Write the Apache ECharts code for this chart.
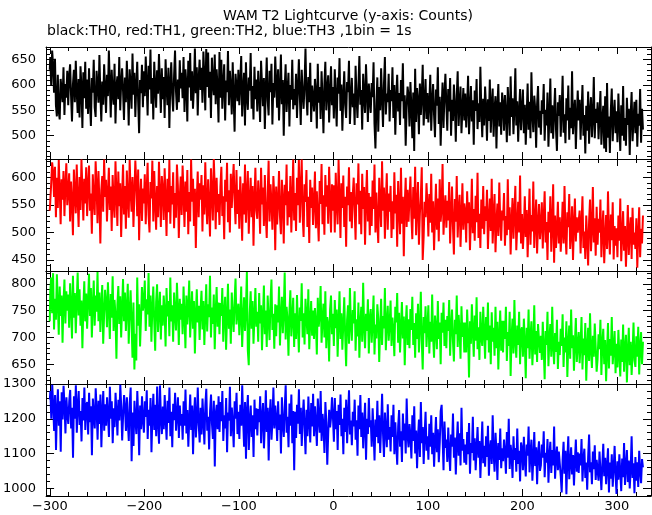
<!DOCTYPE html>
<html><head><meta charset="utf-8">
<script src="https://cdn.jsdelivr.net/npm/echarts@6/dist/echarts.min.js"></script>
<style>html,body{margin:0;padding:0;background:#fff}#c{width:652px;height:515px}</style>
</head><body><div id="c"></div><script>
const TITLE = 'WAM T2 Lightcurve (y-axis: Counts)';
const SUBTITLE = 'black:TH0, red:TH1, green:TH2, blue:TH3 ,1bin = 1s';
const T_START = -300;
const BIN_SEC = 1;

const th0 = [
630,655,598,668,640,585,652,560,538,620,548,532,612,590,566,635,541,602,575,628,
560,617,641,579,528,601,630,566,648,587,545,612,536,637,596,515,625,574,646,553,
611,543,633,570,519,614,585,650,556,537,628,599,565,659,583,528,607,561,641,594,
545,620,578,668,604,536,630,583,561,642,524,596,617,572,655,550,603,633,588,531,
615,566,648,593,520,631,600,553,662,581,624,537,598,646,567,505,610,584,640,556,
627,578,656,602,540,638,591,670,563,614,532,646,597,555,629,583,661,604,545,633,
572,616,535,651,596,560,634,515,603,645,579,548,619,668,588,551,611,566,649,593,
624,574,655,547,631,601,528,648,595,663,569,627,553,598,672,584,635,540,612,650,
590,634,565,666,615,550,671,596,664,575,626,535,654,603,580,660,562,631,594,526,
665,575,650,553,602,641,530,609,586,667,560,628,595,542,645,578,508,622,597,568,
630,560,604,657,538,590,624,520,645,577,551,615,589,663,553,598,532,636,572,611,
548,628,583,527,648,601,558,614,513,592,654,570,540,628,586,642,522,604,575,656,
605,555,631,530,590,660,562,610,500,594,641,547,587,624,518,600,571,650,552,592,
560,622,535,593,651,579,521,630,586,553,603,672,578,540,616,566,644,527,599,576,
548,612,585,514,642,565,596,533,627,575,505,601,646,550,589,619,526,583,637,560,
596,534,631,573,518,615,583,653,549,601,510,578,627,560,535,606,586,648,523,575,
614,556,583,521,638,576,535,597,657,561,590,512,622,578,545,641,587,527,603,570,
545,604,576,645,523,475,563,615,508,596,550,633,576,517,601,655,542,583,566,622,
528,590,568,635,535,600,502,574,620,548,584,521,610,568,643,534,580,480,556,597,
579,518,606,556,495,585,470,632,527,594,570,503,603,541,578,640,520,563,612,533,
584,526,563,620,510,568,602,541,497,591,559,635,523,577,480,553,605,515,579,622,
562,510,592,548,614,500,571,529,601,560,488,578,627,519,565,597,505,553,594,530,
583,516,560,618,503,553,598,528,570,482,589,549,612,513,564,527,636,551,497,573,
520,597,556,490,572,529,611,506,561,593,498,553,578,475,557,602,518,566,502,585,
563,510,580,543,487,596,551,500,617,537,574,503,555,633,520,568,488,548,592,511,
551,591,505,561,482,540,603,512,567,495,625,544,507,579,553,476,562,598,516,549,
502,570,543,602,490,551,520,585,478,538,613,505,560,494,547,594,512,470,566,539,
580,498,549,618,506,542,485,574,530,599,492,555,515,627,503,546,571,474,537,589,
530,571,492,548,600,500,541,465,559,510,587,484,546,576,497,536,616,495,553,525,
566,493,541,588,482,532,559,475,578,468,604,496,538,466,550,593,489,540,571,505,
548,487,583,525,470,560,500,598,490,535,480,575,521,553,462,541,586,489,531,567,
505,571,478,543,520,592,486,553,512
];

const th1 = [
540,556,590,628,610,565,620,528,600,545,632,578,515,597,560,612,530,585,626,550,
575,608,520,593,556,495,615,570,535,624,561,510,601,541,633,580,522,598,553,619,
530,586,622,540,571,498,606,559,532,630,585,517,612,556,480,577,603,538,633,565,
596,520,570,618,541,584,503,605,555,527,630,572,512,611,548,590,492,566,624,533,
585,507,613,560,527,632,575,538,601,510,569,631,590,530,615,486,562,598,521,580,
553,606,515,576,627,532,500,592,562,631,520,612,555,505,585,528,629,570,510,603,
578,523,617,560,494,598,537,632,516,585,551,610,508,572,527,624,586,490,563,602,
532,622,570,510,593,538,614,497,574,520,633,556,598,512,580,472,561,611,528,590,
560,605,502,586,533,628,559,515,597,550,493,617,572,522,634,583,506,600,537,570,
514,583,620,530,566,488,596,556,627,519,577,500,607,545,588,625,560,515,614,534,
578,507,602,557,485,590,533,624,518,568,612,498,558,600,528,585,476,561,618,540,
525,595,561,498,618,551,582,512,605,532,490,570,631,520,588,556,505,603,566,468,
584,515,555,612,530,497,596,560,480,587,550,624,513,575,528,603,500,557,633,522,
572,503,600,550,632,518,578,633,530,492,588,556,614,510,565,481,596,545,582,514,
555,611,508,575,528,484,594,552,625,515,568,496,605,547,586,516,620,560,500,588,
540,586,500,609,553,515,632,563,490,590,545,604,510,565,474,584,550,619,520,574,
508,567,600,542,487,590,551,626,515,576,497,607,543,583,478,560,614,520,572,495,
565,512,595,543,624,500,573,518,481,600,553,510,630,540,582,489,556,608,505,571,
538,585,490,557,506,610,535,569,474,594,546,497,618,516,565,457,550,600,510,578,
520,561,602,530,488,583,525,620,495,548,592,478,534,566,619,450,492,556,528,590,
551,493,570,518,607,500,557,468,529,589,505,562,484,597,520,545,625,496,540,568,
509,558,522,592,480,533,584,511,460,561,520,603,491,540,569,474,528,590,505,553,
538,482,575,517,555,468,526,598,499,543,485,567,519,609,490,534,472,560,507,585,
497,548,521,578,470,525,562,503,598,480,530,570,464,518,553,494,591,522,485,540,
522,572,476,530,495,597,505,546,460,520,563,489,537,585,468,512,556,500,604,480,
534,470,508,566,492,541,455,518,580,478,532,502,593,472,522,560,462,515,552,488,
512,555,471,526,575,482,519,450,538,500,566,465,514,588,445,531,472,507,556,480,
528,465,503,556,480,585,497,460,537,510,570,470,498,548,450,515,562,484,528,500,
497,540,462,515,566,472,502,452,531,490,440,520,560,466,508,583,482,526,458,547,
478,525,500,560,455,505,540,444,490,532,470,575,498,460,533,486,555,451,512,476,
508,455,531,485,562,448,495,539,467,512,438,492,550,459,503,528,452,545,478,500,
470,526,436,497,546,455,507,480,531
];

const th2 = [
730,785,812,745,820,715,772,733,818,762,705,795,740,778,690,765,808,726,786,750,
780,718,801,757,698,815,737,783,708,766,821,741,790,722,769,680,755,805,730,782,
716,768,819,740,792,700,760,806,722,778,748,822,730,784,710,762,798,688,744,789,
765,719,803,754,697,781,737,814,712,770,742,660,760,796,725,777,700,756,809,730,
784,712,755,800,688,747,788,728,662,765,640,707,657,812,722,762,683,736,794,750,
765,806,712,771,743,820,720,778,692,754,795,730,675,766,799,710,750,785,696,760,
722,778,748,683,792,739,768,702,812,730,760,692,784,744,713,802,752,686,772,733,
763,706,795,740,680,778,724,755,806,700,747,786,716,768,670,742,790,728,759,695,
752,787,715,768,686,744,799,711,762,738,815,700,756,725,780,678,746,794,720,765,
706,764,740,792,692,746,776,677,737,800,716,752,688,784,742,710,768,810,724,750,
763,704,742,795,682,733,775,712,752,822,675,648,745,786,716,768,688,738,792,720,
748,692,783,726,760,676,737,797,706,750,682,778,734,695,769,808,714,744,679,762,
702,760,728,795,685,740,776,708,748,821,696,757,733,666,748,788,702,736,774,682,
745,697,779,722,672,756,731,801,700,745,687,772,738,706,790,678,729,768,703,750,
697,755,727,668,774,720,742,796,690,732,763,700,786,680,738,725,655,752,778,706,
744,684,770,717,752,664,729,786,697,745,677,724,775,703,646,733,760,688,792,722,
694,751,726,786,675,734,702,765,662,727,757,692,802,720,680,744,712,771,670,735,
753,690,729,778,668,724,698,762,735,654,718,772,686,740,717,792,676,727,759,694,
724,769,684,737,712,665,757,728,783,690,746,672,718,766,698,739,648,722,760,686,
734,680,753,714,776,686,727,662,745,697,763,672,719,785,693,640,738,708,758,682,
720,760,670,729,692,780,700,662,741,716,678,768,697,728,650,746,709,765,684,733,
680,740,712,770,666,720,752,692,655,733,706,778,682,742,713,660,758,701,728,672,
728,672,752,704,625,730,688,762,712,664,741,694,775,678,719,658,748,700,684,757,
710,660,738,695,765,672,722,650,747,692,718,666,757,680,729,640,702,750,675,731,
672,731,697,757,656,710,684,748,628,702,735,670,770,692,662,722,686,748,650,713,
719,664,735,690,624,718,680,752,660,700,730,648,688,760,668,712,654,725,696,671,
703,658,729,681,622,712,686,748,646,697,725,664,757,684,650,708,673,733,641,692,
667,716,684,743,645,700,672,730,626,688,722,660,752,680,704,638,690,736,654,686,
710,652,688,738,640,698,667,727,619,680,718,656,745,676,643,703,664,726,682,636,
660,706,678,733,630,688,716,650,695,618,672,727,642,697,666,738,650,680,712,633,
688,644,714,668,627,696,654,724,636,680,705,616,672,718,648,692,630,671,728,657,
645,702,664,720,631,682,710,650,692
];

const th3 = [
1255,1280,1200,1298,1240,1165,1268,1110,1225,1285,1180,1250,1105,1276,1198,1295,1236,1158,1262,1212,
1185,1250,1283,1172,1232,1088,1265,1200,1296,1160,1238,1280,1182,1222,1135,1260,1195,1290,1168,1240,
1248,1155,1275,1190,1236,1095,1258,1210,1172,1288,1225,1140,1252,1185,1270,1118,1220,1280,1166,1242,
1180,1262,1212,1148,1292,1200,1250,1130,1230,1176,1275,1218,1152,1255,1195,1298,1236,1138,1210,1268,
1232,1165,1262,1190,1136,1245,1290,1078,1218,1122,1252,1200,1156,1280,1205,1095,1238,1170,1265,1196,
1160,1250,1205,1282,1142,1226,1180,1260,1104,1212,1272,1168,1240,1150,1293,1190,1128,1296,1203,1156,
1235,1170,1268,1200,1140,1252,1188,1290,1150,1220,1118,1243,1196,1275,1166,1210,1262,1145,1238,1180,
1214,1140,1250,1180,1284,1158,1225,1120,1197,1270,1168,1238,1098,1210,1262,1146,1200,1290,1182,1132,
1232,1155,1258,1195,1126,1240,1286,1166,1206,1112,1222,1270,1185,1142,1252,1063,1214,1240,1170,1265,
1162,1248,1193,1280,1136,1210,1172,1260,1104,1218,1195,1292,1150,1232,1188,1118,1250,1200,1275,1156,
1220,1142,1240,1180,1296,1198,1120,1248,1085,1222,1268,1110,1192,1238,1148,1210,1090,1255,1170,1230,
1152,1228,1190,1265,1130,1204,1245,1115,1186,1282,1162,1232,1080,1208,1256,1140,1195,1290,1172,1238,
1200,1136,1250,1168,1212,1100,1262,1186,1148,1232,1296,1160,1206,1118,1244,1180,1270,1130,1222,1052,
1220,1145,1240,1186,1285,1156,1232,1122,1204,1255,1175,1098,1226,1150,1264,1193,1132,1245,1178,1272,
1150,1236,1186,1122,1258,1200,1160,1280,1136,1214,1180,1102,1248,1190,1068,1158,1226,1175,1204,1262,
1205,1134,1260,1170,1222,1110,1240,1182,1270,1150,1200,1098,1232,1162,1255,1130,1210,1282,1155,1195,
1124,1220,1178,1255,1140,1196,1094,1238,1170,1268,1148,1218,1115,1186,1246,1082,1200,1156,1260,1176,
1196,1120,1230,1160,1080,1198,1148,1252,1130,1210,1102,1180,1272,1156,1090,1218,1166,1118,1242,1140,
1176,1106,1210,1148,1240,1098,1190,1126,1068,1178,1225,1120,1164,1076,1215,1138,1186,1100,1258,1152,
1118,1185,1150,1086,1210,1136,1236,1100,1166,1058,1146,1198,1090,1248,1130,1176,1070,1156,1220,1108,
1150,1082,1186,1120,1210,1098,1160,1062,1138,1205,1104,1170,1075,1132,1222,1240,1148,1052,1192,1116,
1140,1076,1175,1106,1050,1155,1120,1215,1088,1146,1040,1130,1192,1094,1158,1066,1232,1108,1142,1074,
1126,1068,1162,1098,1188,1042,1130,1102,1206,1080,1144,1052,1115,1176,1088,1136,1030,1112,1192,1072,
1122,1062,1150,1090,1180,1036,1112,1138,1070,1210,1100,1048,1160,1108,1024,1130,1082,1172,1058,1115,
1078,1140,1104,1042,1162,1088,1200,1056,1125,1096,1030,1150,1082,1116,1048,1172,1070,1108,1020,1132,
1115,1052,1148,1080,1034,1126,1094,1178,1046,1102,1140,1022,1086,1162,1064,1118,1012,1100,1135,1050,
1066,1126,1088,1164,1032,1102,1074,1142,1016,1092,1134,1044,1110,1066,1178,1028,1088,1120,1052,1106,
1102,1036,988,1082,1134,1042,1108,983,1086,1150,1026,1072,1118,1040,1096,1008,1080,1140,1048,1104,
1044,1100,1066,1142,1020,1084,1114,1030,1074,996,1090,1155,1046,1075,1012,1106,1055,1124,1024,1082,
1082,1022,1106,1050,995,1068,1128,1035,1088,1012,1064,1115,988,1074,1028,1098,1005,1056,1122,1040,
984,1078,1025,1098,1048,992,1086,1032,1130,1010,1062,1110,1018,1080,1000,1054,1150,1030,1072,986,
1090,1022,1075,1004,1108,1050,1015,1084,1060
];

const xMajorTicks = [-300,-200,-100,0,100,200,300];
const xMinorTicks = [-300,-280,-260,-240,-220,-200,-180,-160,-140,-120,-100,-80,-60,-40,-20,0,20,40,60,80,100,120,140,160,180,200,220,240,260,280,300,320];
const yMajorTicks = [
  [500,550,600,650],
  [450,500,550,600],
  [650,700,750,800],
  [1000,1100,1200,1300]
];
const yMinorTicks = [
  [460,470,480,490,500,510,520,530,540,550,560,570,580,590,600,610,620,630,640,650,660,670],
  [430,440,450,460,470,480,490,500,510,520,530,540,550,560,570,580,590,600,610,620,630],
  [620,630,640,650,660,670,680,690,700,710,720,730,740,750,760,770,780,790,800,810,820],
  [980,1000,1020,1040,1060,1080,1100,1120,1140,1160,1180,1200,1220,1240,1260,1280,1300]
];
const yRanges = [[454,675],[430,634],[613,824],[978,1300]];
const xRange = [-304, 336];
const channels = [th0, th1, th2, th3];
const channelColors = ['#000000','#ff0000','#00ff00','#0000ff'];

// layout
const PLOT_LEFT = 46, PLOT_WIDTH = 605;
const PANEL_TOP = [47,159,271,384];
const PANEL_H = [112,112,113,112];
const FONT = '"DejaVu Sans", Verdana, sans-serif';

const grid = [], xAxis = [], yAxis = [];
for (let g = 0; g < 8; g++) {
  const p = g % 4, minor = g >= 4;
  grid.push({left: PLOT_LEFT, top: PANEL_TOP[p], width: PLOT_WIDTH, height: PANEL_H[p], containLabel: false});
  ['bottom','top'].forEach(pos => {
    xAxis.push({
      gridIndex: g, type: 'value', position: pos, min: xRange[0], max: xRange[1],
      axisLine: {show: !minor, onZero: false, lineStyle: {color: '#000', width: 1}},
      axisTick: {show: true, inside: true, length: minor ? 4 : 7, customValues: minor ? xMinorTicks : xMajorTicks, lineStyle: {color: '#000', width: 1}},
      axisLabel: {show: !minor && p === 3 && pos === 'bottom', customValues: xMajorTicks, color: '#000', fontSize: 13, fontFamily: FONT, margin: 4,
        formatter: v => String(v).replace('-', '\u2212')},
      splitLine: {show: false}
    });
  });
  ['left','right'].forEach(pos => {
    yAxis.push({
      gridIndex: g, type: 'value', position: pos, min: yRanges[p][0], max: yRanges[p][1],
      axisLine: {show: !minor, onZero: false, lineStyle: {color: '#000', width: 1}},
      axisTick: {show: true, inside: true, length: minor ? 4 : 8, customValues: minor ? yMinorTicks[p] : yMajorTicks[p], lineStyle: {color: '#000', width: 1}},
      axisLabel: {show: !minor && pos === 'left', customValues: yMajorTicks[p], color: '#000', fontSize: 13, fontFamily: FONT, margin: 10,
        formatter: v => String(v)},
      splitLine: {show: false}
    });
  });
}

const series = channels.map((vals, p) => ({
  type: 'line',
  xAxisIndex: 2 * p, yAxisIndex: 2 * p,
  data: vals.map((v, k) => [T_START + k * BIN_SEC, v]),
  showSymbol: false, symbol: 'none', step: 'middle',
  lineStyle: {color: channelColors[p], width: 2},
  itemStyle: {color: channelColors[p]},
  animation: false, silent: true, clip: true
}));

const chart = echarts.init(document.getElementById('c'), null, {renderer: 'canvas'});
chart.setOption({
  animation: false,
  backgroundColor: '#ffffff',
  grid, xAxis, yAxis, series,
  graphic: [
    {type: 'text', x: 348, y: 16, style: {text: TITLE, font: '14px ' + FONT, fill: '#000', textAlign: 'center', textVerticalAlign: 'middle', align: 'center', verticalAlign: 'middle'}},
    {type: 'text', x: 47, y: 31, style: {text: SUBTITLE, font: '14px ' + FONT, fill: '#000', textAlign: 'left', textVerticalAlign: 'middle', align: 'left', verticalAlign: 'middle'}}
  ]
});
</script></body></html>
